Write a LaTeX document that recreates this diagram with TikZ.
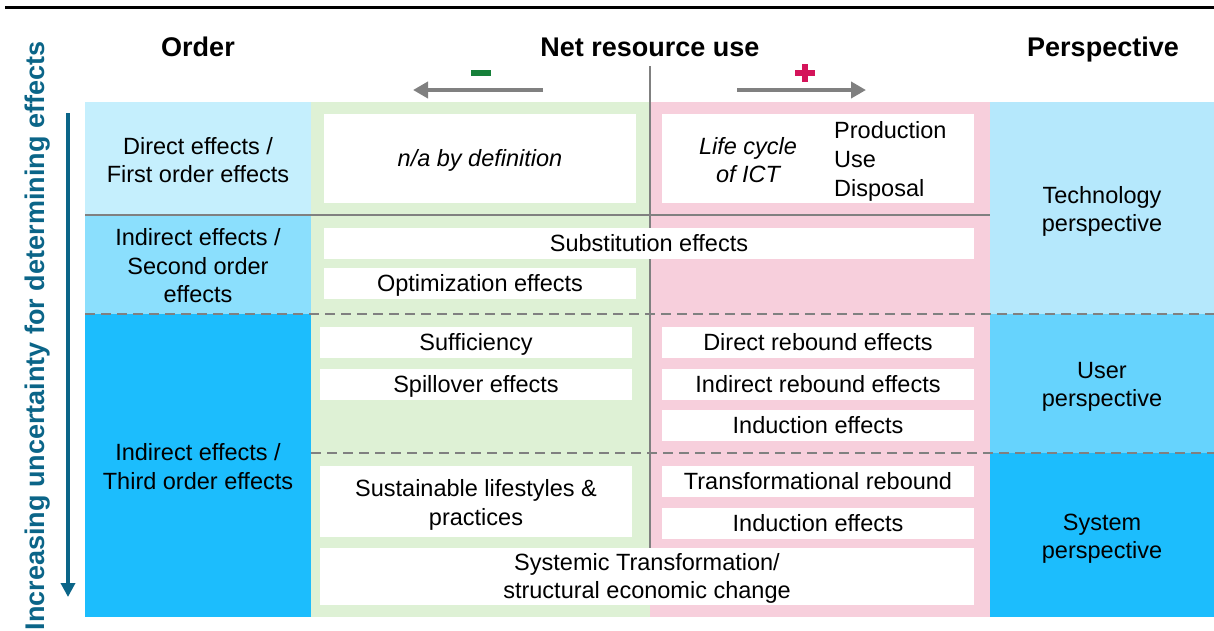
\documentclass[tikz,border=0pt]{standalone}
\usepackage{fontspec}
\setmainfont{Liberation Sans}
\usetikzlibrary{arrows.meta}
\definecolor{ordA}{HTML}{C5EFFD}
\definecolor{ordB}{HTML}{8BDFFD}
\definecolor{ordC}{HTML}{1CBDFD}
\definecolor{perA}{HTML}{B5E8FC}
\definecolor{perB}{HTML}{66D3FD}
\definecolor{perC}{HTML}{1CBDFD}
\definecolor{negbg}{HTML}{DEF1D5}
\definecolor{posbg}{HTML}{F7CFDC}
\definecolor{teal}{HTML}{0B6588}
\definecolor{minusgreen}{HTML}{16803A}
\definecolor{plusred}{HTML}{D4145A}
\definecolor{linegray}{HTML}{808080}
\begin{document}
\begin{tikzpicture}[x=1pt,y=-1pt,
  txt/.style={font=\fontsize{23.5}{28.5}\selectfont, align=center, text=black, inner sep=0pt},
  region/.style={draw=none, inner sep=0pt},
  wbox/.style={txt, fill=white, draw=none, inner sep=0pt},
  oneline/.style={text height=16.8pt, text depth=0pt},
  head/.style={font=\fontsize{27}{30}\selectfont\bfseries, text=black, anchor=base, inner sep=0pt},
  grayarrow/.style={draw=linegray, line width=4.5pt, -{Triangle[length=15pt,width=16pt]}},
  dashline/.style={draw=linegray, line width=2.8pt, dash pattern=on 10pt off 6pt},
  solidline/.style={draw=linegray, line width=2.8pt}
]
\useasboundingbox (0,0) rectangle (1214,630);

% top rule
\coordinate (topL) at (5,7);
\coordinate (topR) at (1214,7);
\draw[black, line width=3pt] (topL) -- (topR);

% headers
\node[head] (hOrder) at (198,56) {Order};
\node[head] (hNet) at (650,56) {Net resource use};
\node[head] (hPer) at (1103,56) {Perspective};

% background regions
\node[region, fill=negbg, minimum width=339pt, minimum height=515pt] (neg) at (480.5,359.5) {};
\node[region, fill=posbg, minimum width=340pt, minimum height=515pt] (pos) at (820,359.5) {};
\node[region, fill=ordA, minimum width=226pt, minimum height=113pt] (ord1) at (198,158.5) {};
\node[region, fill=ordB, minimum width=226pt, minimum height=99pt] (ord2) at (198,264.5) {};
\node[region, fill=ordC, minimum width=226pt, minimum height=303pt] (ord3) at (198,465.5) {};
\node[region, fill=perA, minimum width=224pt, minimum height=212pt] (per1) at (1102,208) {};
\node[region, fill=perB, minimum width=224pt, minimum height=139pt] (per2) at (1102,383.5) {};
\node[region, fill=perC, minimum width=224pt, minimum height=164pt] (per3) at (1102,535) {};

\node[txt, yshift=-1.5pt] (ord1t) at (ord1) {Direct effects /\\First order effects};
\node[txt, yshift=-1.5pt] (ord2t) at (ord2) {Indirect effects /\\Second order\\effects};
\node[txt, yshift=-1pt] (ord3t) at (ord3) {Indirect effects /\\Third order effects};
\node[txt, yshift=-3.5pt] (per1t) at (per1) {Technology\\perspective};
\node[txt, yshift=-3.5pt] (per2t) at (per2) {User\\perspective};
\node[txt, yshift=-3.5pt] (per3t) at (per3) {System\\perspective};

% separator lines (under the white boxes)
\coordinate (hs1) at (85,215);
\coordinate (hs2) at (990,215);
\draw[solidline] (hs1) -- (hs2);
\coordinate (d1L) at (85,314);
\coordinate (d1R) at (1214,314);
\draw[dashline] (d1L) -- (d1R);
\coordinate (d2L) at (311,453);
\coordinate (d2R) at (1214,453);
\draw[dashline] (d2L) -- (d2R);
\coordinate (vtop) at (650,66);
\coordinate (vbot) at (650,548);
\draw[draw=linegray, line width=2pt] (vtop) -- (vbot);

% white boxes
\node[wbox, oneline, minimum width=312pt, minimum height=89pt] (na) at (480,158.5) {\itshape n/a by definition};
\node[wbox, minimum width=312pt, minimum height=89pt] (lc) at (818,158.5) {};
\node[txt, font=\fontsize{23.5}{28.5}\selectfont\itshape, yshift=-1pt] (lcA) at (748,159) {Life cycle\\of ICT};
\node[txt, align=left, anchor=west, font=\fontsize{23.5}{29}\selectfont, yshift=-2pt] (lcB) at (834,159) {Production\\Use\\Disposal};
\node[wbox, oneline, minimum width=650pt, minimum height=31pt] (subst) at (649,243.5) {Substitution effects};
\node[wbox, oneline, minimum width=312pt, minimum height=31pt] (optim) at (480,283.5) {Optimization effects};
\node[wbox, oneline, minimum width=312pt, minimum height=31pt] (suff) at (476,342.5) {Sufficiency};
\node[wbox, oneline, minimum width=312pt, minimum height=31pt] (spill) at (476,384.5) {Spillover effects};
\node[wbox, oneline, minimum width=312pt, minimum height=31pt] (drb) at (818,342.5) {Direct rebound effects};
\node[wbox, oneline, minimum width=312pt, minimum height=31pt] (irb) at (818,384.5) {Indirect rebound effects};
\node[wbox, oneline, minimum width=312pt, minimum height=31pt] (indA) at (818,425.5) {Induction effects};
\node[wbox, minimum width=312pt, minimum height=71pt] (sust) at (476,501.5) {};
\node[txt, yshift=-3.5pt] (sustt) at (sust) {Sustainable lifestyles \&\\practices};
\node[wbox, oneline, minimum width=312pt, minimum height=31pt] (trb) at (818,481.5) {Transformational rebound};
\node[wbox, oneline, minimum width=312pt, minimum height=31pt] (indB) at (818,523.5) {Induction effects};
\node[wbox, minimum width=654pt, minimum height=57pt] (sys) at (647,576.5) {};
\node[txt, yshift=-2pt] (syst) at (sys) {Systemic Transformation/\\structural economic change};

% direction arrows and signs
\coordinate (laS) at (543,90);
\coordinate (laE) at (413,90);
\draw[grayarrow] (laS) -- (laE);
\coordinate (raS) at (737,90);
\coordinate (raE) at (866,90);
\draw[grayarrow] (raS) -- (raE);
\draw[minusgreen, line width=6pt] (471,73) -- (491,73);
\draw[plusred, line width=5.5pt] (795,73) -- (815,73);
\draw[plusred, line width=5.5pt] (805,64) -- (805,82);

% vertical uncertainty axis
\node[font=\fontsize{27}{30}\selectfont\bfseries, text=teal, rotate=90] (unc) at (38,336) {Increasing uncertainty for determining effects};
\coordinate (uTop) at (68,113);
\coordinate (uBot) at (68,597);
\draw[teal, line width=4pt, -{Triangle[length=14pt,width=14pt]}] (uTop) -- (uBot);
\end{tikzpicture}
\end{document}
